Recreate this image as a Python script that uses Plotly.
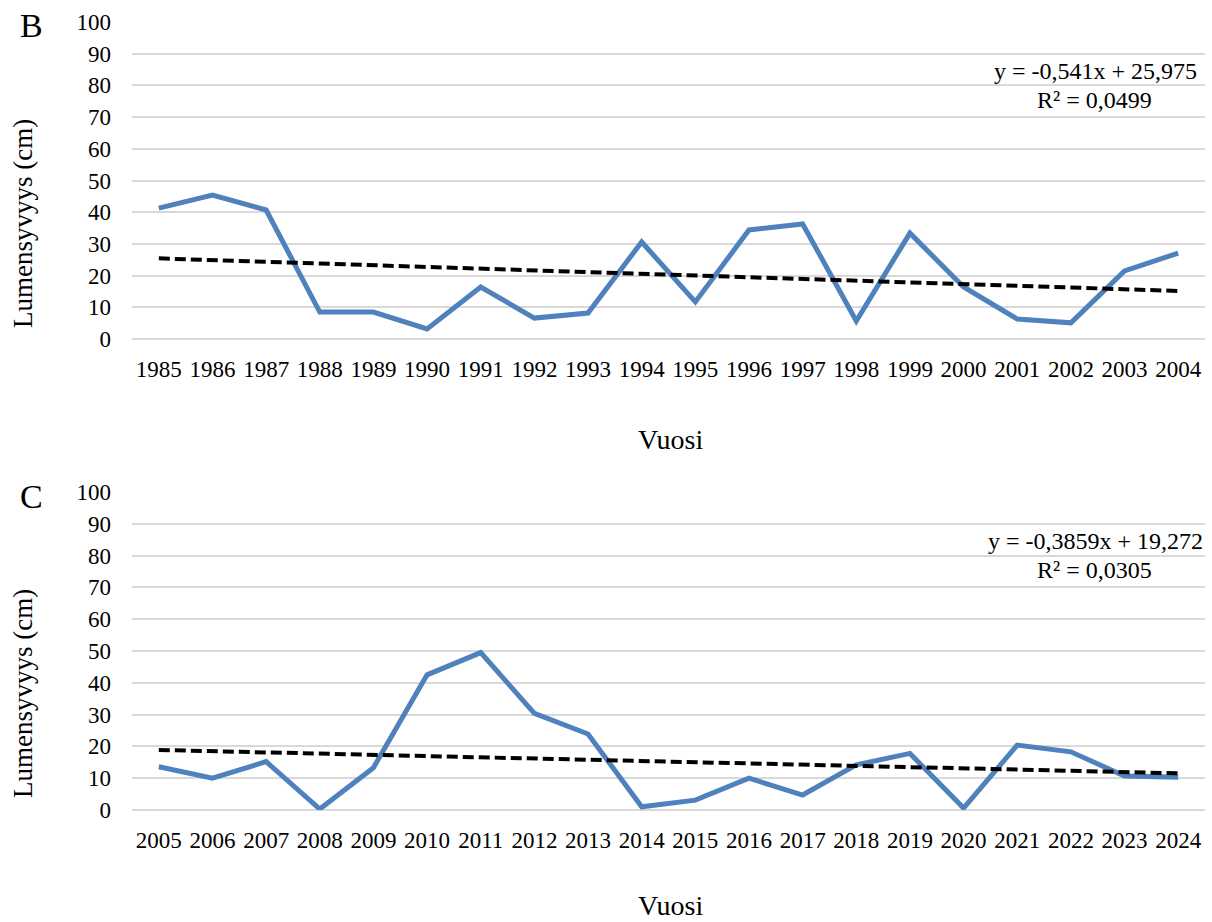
import plotly.graph_objects as go

# Snow depth (cm) per year, two 20-year periods
years_b = list(range(1985, 2005))
depth_b = [41.3, 45.4, 40.7, 8.5, 8.5, 3.2, 16.4, 6.6, 8.2, 30.6,
           11.7, 34.4, 36.3, 5.7, 33.4, 16.4, 6.3, 5.1, 21.5, 27.1]

years_c = list(range(2005, 2025))
depth_c = [13.6, 10.0, 15.2, 0.3, 13.3, 42.5, 49.5, 30.4, 23.9, 1.0,
           3.1, 10.0, 4.7, 14.2, 17.8, 0.6, 20.4, 18.3, 10.7, 10.3]

# Linear trend coefficients (x = running index 1..20)
trend_b = (-0.541, 25.975)
trend_c = (-0.3859, 19.272)
r2_b = "0,0499"
r2_c = "0,0305"

W, H = 1212, 922
FONT = "Liberation Serif"
BLUE = "#4f81bd"
GRID = "#d9d9d9"


def fx(px):
    return px / W


def fy(py):
    return 1 - py / H


def fmt(v):
    return str(v).replace(".", ",")


fig = go.Figure()

# letter, years, values, trend, r2, axes, plot top/bottom (px), x-title centre (px)
panels = [
    ("B", years_b, depth_b, trend_b, r2_b, "x", "y", 22, 339, 440),
    ("C", years_c, depth_c, trend_c, r2_c, "x2", "y2", 492, 810, 905),
]

annotations = []
for i, (letter, yrs, vals, (slope, icpt), r2, xa, ya, top, bot, xt) in enumerate(panels):
    fig.add_trace(go.Scatter(x=yrs, y=vals, mode="lines",
                             line=dict(color=BLUE, width=5),
                             xaxis=xa, yaxis=ya, showlegend=False))
    idx = list(range(1, len(yrs) + 1))
    fit = [slope * k + icpt for k in idx]
    fig.add_trace(go.Scatter(x=yrs, y=fit, mode="lines",
                             line=dict(color="black", width=4, dash="11px,5px"),
                             xaxis=xa, yaxis=ya, showlegend=False))

    sfx = "" if i == 0 else str(i + 1)
    fig.layout["xaxis" + sfx] = dict(
        domain=[fx(132), fx(1205)],
        range=[yrs[0] - 0.5, yrs[-1] + 0.5],
        tickvals=yrs, ticktext=[str(y) for y in yrs],
        showgrid=False, zeroline=False, showline=False,
        ticks="", ticklabelstandoff=14, automargin=False,
        tickfont=dict(family=FONT, size=23, color="black"),
        anchor="y" + sfx, fixedrange=True,
    )
    fig.layout["yaxis" + sfx] = dict(
        domain=[fy(bot), fy(top)],
        range=[0, 100], dtick=10,
        showgrid=True, gridcolor=GRID, gridwidth=1.5,
        zeroline=True, zerolinecolor=GRID, zerolinewidth=1.5,
        showline=False, ticks="", ticklabelstandoff=20, automargin=False,
        tickfont=dict(family=FONT, size=23, color="black"),
        anchor="x" + sfx, fixedrange=True,
    )

    annotations += [
        dict(text=letter, x=fx(31), y=fy(top + 4), xref="paper", yref="paper",
             showarrow=False, xanchor="center", yanchor="middle",
             font=dict(family=FONT, size=34, color="black")),
        dict(text="Lumensyvyys (cm)", textangle=-90, x=fx(23), y=fy(top + 202),
             xref="paper", yref="paper", showarrow=False,
             xanchor="center", yanchor="middle",
             font=dict(family=FONT, size=27, color="black")),
        dict(text="Vuosi", x=fx(670), y=fy(xt), xref="paper", yref="paper",
             showarrow=False, xanchor="center", yanchor="middle",
             font=dict(family=FONT, size=28, color="black")),
        dict(text=f"y = {fmt(slope)}x + {fmt(icpt)}", x=fx(1095), y=fy(top + 49),
             xref="paper", yref="paper", showarrow=False,
             xanchor="center", yanchor="middle",
             font=dict(family=FONT, size=24, color="black")),
        dict(text=f"R² = {r2}", x=fx(1094), y=fy(top + 78),
             xref="paper", yref="paper", showarrow=False,
             xanchor="center", yanchor="middle",
             font=dict(family=FONT, size=24, color="black")),
    ]

fig.update_layout(
    width=W, height=H,
    margin=dict(l=0, r=0, t=0, b=0, pad=0, autoexpand=False),
    paper_bgcolor="white", plot_bgcolor="white",
    annotations=annotations,
)

# Keep the page exactly the size of the figure
fig.write_html(
    "out.html",
    post_script="document.body.style.margin='0';"
                "document.documentElement.style.overflow='hidden';",
)
